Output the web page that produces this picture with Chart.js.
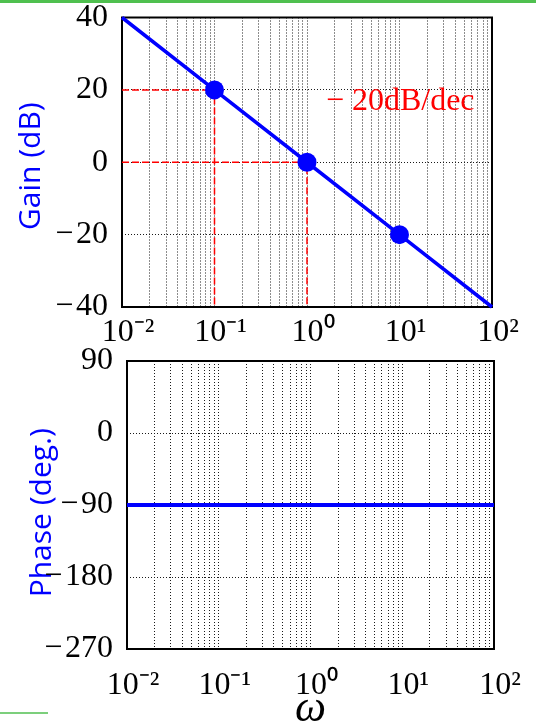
<!DOCTYPE html>
<html>
<head>
<meta charset="utf-8">
<script src="https://cdn.jsdelivr.net/npm/chart.js@4/dist/chart.umd.min.js"></script>
<style>
  html, body { margin: 0; padding: 0; background: #fff; }
  body { width: 536px; height: 722px; position: relative; overflow: hidden; }
  canvas { position: absolute; left: 0; top: 0; }
  .rule-top { position: absolute; left: 0; top: 0; width: 536px; height: 3px; background: #4fc04f; }
  .rule-bottom { position: absolute; left: 0; top: 712px; width: 48px; height: 2px; background: #7ccf7c; }
</style>
</head>
<body>
<div class="rule-top"></div>
<canvas id="gain" width="536" height="722"></canvas>
<canvas id="phase" width="536" height="722"></canvas>
<div class="rule-bottom"></div>
<script>
// Data

const decades = [0.01, 0.1, 1, 10, 100];
const decadeLabels = ['10\u207B\u00B2', '10\u207B\u00B9', '10\u2070', '10\u00B9', '10\u00B2'];
const minorSteps = [1, 2, 3, 4, 5, 6, 7, 8, 9];

const gainW = [0.01, 0.1, 1, 10, 100];
const gainDb = [40, 20, 0, -20, -40];
const markW = [0.1, 1, 10];
const markDb = [20, 0, -20];
const guideW1 = [0.01, 0.1, 0.1];
const guideDb1 = [20, 20, -40];
const guideW2 = [0.01, 1, 1];
const guideDb2 = [0, 0, -40];

const gainTicks = [-40, -20, 0, 20, 40];
const phaseW = [0.01, 100];
const phaseDeg = [-90, -90];
const phaseTicks = [-270, -180, -90, 0, 90];

// Settings

const colors = {
  blue: '#0000ff',
  red: '#ff0000',
  grid: '#1a1a1a',
  ink: '#000000',
};

const serif = 'Liberation Serif';
const sans = 'Open Sans';
const tickSize = 32;

Chart.defaults.font.family = serif;
Chart.defaults.color = colors.ink;

function pairs(xs, ys) {
  return xs.map(function(x, i) { return {x: x, y: ys[i]}; });
}

const gridValues = [];
decades.slice(0, -1).forEach(function(d) {
  minorSteps.forEach(function(k) { gridValues.push(d * k); });
});
gridValues.push(decades[decades.length - 1]);

function minusLabel(v) {
  return v < 0 ? '\u2212\u200A' + (-v) : String(v);
}

// Plugins

const frame = {
  id: 'frame',
  beforeDatasetsDraw(chart) {
    const a = chart.chartArea;
    const ctx = chart.ctx;
    ctx.save();
    ctx.strokeStyle = colors.ink;
    ctx.lineWidth = 2;
    ctx.setLineDash([]);
    ctx.strokeRect(a.left, a.top, a.right - a.left, a.bottom - a.top);
    ctx.restore();
  }
};

const note = {
  id: 'note',
  afterDatasetsDraw(chart, args, opts) {
    if (!opts.text) return;
    const ctx = chart.ctx;
    ctx.save();
    ctx.font = opts.size + 'px "' + serif + '"';
    ctx.fillStyle = colors.red;
    ctx.textAlign = 'left';
    ctx.textBaseline = 'alphabetic';
    ctx.fillText(opts.text, chart.scales.x.getPixelForValue(opts.x), chart.scales.y.getPixelForValue(opts.y));
    ctx.restore();
  }
};

function logAxis(labelPad, height, title) {
  return {
    type: 'logarithmic',
    min: decades[0],
    max: decades[decades.length - 1],
    afterBuildTicks: function(scale) {
      scale.ticks = gridValues.map(function(v) { return {value: v}; });
    },
    afterFit: function(scale) {
      scale.height = height;
      scale.paddingLeft = 0;
      scale.paddingRight = 0;
    },
    ticks: {
      autoSkip: false,
      maxRotation: 0,
      minRotation: 0,
      padding: labelPad,
      labelOffset: 6,
      font: {size: tickSize, family: serif},
      color: colors.ink,
      callback: function(value) {
        const i = decades.indexOf(value);
        return i >= 0 ? decadeLabels[i] : '';
      }
    },
    grid: {color: colors.grid, lineWidth: 1, drawTicks: false},
    border: {display: false, dash: [1, 2]},
    title: title || {display: false},
  };
}

function linAxis(ticks, width, text, titlePad) {
  return {
    min: ticks[0],
    max: ticks[ticks.length - 1],
    afterBuildTicks: function(scale) {
      scale.ticks = ticks.map(function(v) { return {value: v}; });
    },
    afterFit: function(scale) {
      scale.width = width;
      scale.paddingTop = 0;
      scale.paddingBottom = 0;
    },
    ticks: {
      padding: 14,
      font: {size: tickSize, family: serif},
      color: colors.ink,
      callback: minusLabel
    },
    grid: {color: colors.grid, lineWidth: 1, drawTicks: false},
    border: {display: false, dash: [1, 2]},
    title: {
      display: true,
      text: text,
      color: colors.blue,
      font: {size: 30, family: sans},
      padding: {top: titlePad, bottom: 0}
    }
  };
}

const common = {
  responsive: false,
  animation: false,
  devicePixelRatio: 1,
  events: [],
};

// Gain chart

new Chart(document.getElementById('gain'), {
  type: 'line',
  data: {
    datasets: [
      {
        data: pairs(gainW, gainDb),
        borderColor: colors.blue,
        borderWidth: 3.5,
        pointRadius: 0,
        clip: 2,
      },
      {
        data: pairs(markW, markDb),
        showLine: false,
        pointRadius: 9.5,
        pointBackgroundColor: colors.blue,
        pointBorderWidth: 0,
      },
      {
        data: pairs(guideW1, guideDb1),
        borderColor: colors.red,
        borderWidth: 1.5,
        borderDash: [7, 3],
        pointRadius: 0,
      },
      {
        data: pairs(guideW2, guideDb2),
        borderColor: colors.red,
        borderWidth: 1.5,
        borderDash: [7, 3],
        pointRadius: 0,
      },
    ]
  },
  options: Object.assign({}, common, {
    layout: {padding: {top: 17.5, right: 44, bottom: 375, left: 0}},
    scales: {
      x: logAxis(6, 40),
      y: linAxis(gainTicks, 122, 'Gain (dB) ', 13),
    },
    plugins: {
      legend: {display: false},
      tooltip: {enabled: false},
      note: {text: '\u2212 20dB/dec', x: 1.6, y: 14.4, size: 32},
    }
  }),
  plugins: [frame, note],
});

// Phase chart

new Chart(document.getElementById('phase'), {
  type: 'line',
  data: {
    datasets: [
      {
        data: pairs(phaseW, phaseDeg),
        borderColor: colors.blue,
        borderWidth: 4,
        pointRadius: 0,
      },
    ]
  },
  options: Object.assign({}, common, {
    layout: {padding: {top: 361, right: 42, bottom: 0, left: 0}},
    scales: {
      x: logAxis(17, 73, {
        display: true,
        text: '\u03C9',
        color: colors.ink,
        font: {size: 44, family: serif, style: 'italic', lineHeight: 1},
        padding: {top: 0, bottom: -9}
      }),
      y: linAxis(phaseTicks, 127, 'Phase (deg.)  ', 24),
    },
    plugins: {
      legend: {display: false},
      tooltip: {enabled: false},
      note: {},
    }
  }),
  plugins: [frame, note],
});
</script>
</body>
</html>
